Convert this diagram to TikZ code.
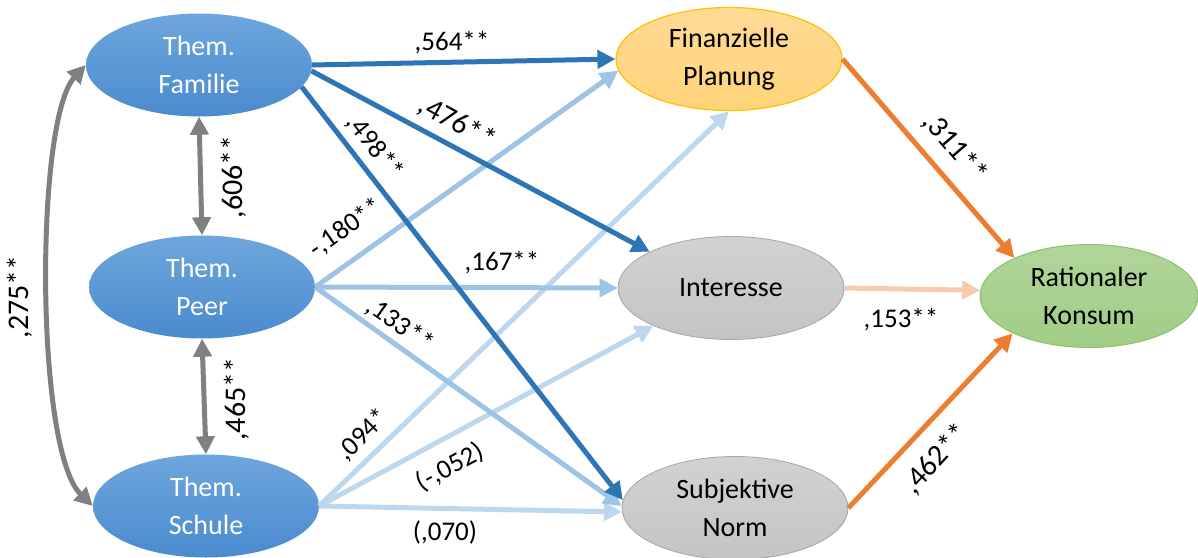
\documentclass[tikz,border=0pt]{standalone}
\usepackage{fontspec}
\setmainfont{Carlito}
\usetikzlibrary{arrows.meta,shapes.geometric}
\definecolor{dblue}{HTML}{2E75B6}
\definecolor{pblue}{HTML}{9DC3E6}
\definecolor{sblue}{HTML}{BDD7EE}
\definecolor{orng}{HTML}{ED7D31}
\definecolor{lorng}{HTML}{F8CBAD}
\definecolor{cgray}{HTML}{808080}
\definecolor{themtop}{HTML}{6EA6DC}
\definecolor{thembot}{HTML}{4A8BCE}
\definecolor{fintop}{HTML}{FFDA95}
\definecolor{finbot}{HTML}{FFD47A}
\definecolor{finbord}{HTML}{FFC000}
\definecolor{graytop}{HTML}{D2D2D2}
\definecolor{graybot}{HTML}{C4C4C4}
\definecolor{graybord}{HTML}{A5A5A5}
\definecolor{greentop}{HTML}{B1D59A}
\definecolor{greenbot}{HTML}{A2CC86}
\definecolor{greenbord}{HTML}{8DC26C}
\newcommand\ndfont{\fontsize{28}{38}\selectfont}
\newcommand\lbfont{\fontsize{27}{30}\selectfont}
\newcommand\lbbigfont{\fontsize{30}{33}\selectfont}
\begin{document}
\begin{tikzpicture}[x=1pt,y=-1pt,
  ell/.style={ellipse, inner sep=0pt, align=center, font=\ndfont, minimum width=226pt, minimum height=103pt},
  them/.style={ell, top color=themtop, bottom color=thembot, text=white},
  finst/.style={ell, top color=fintop, bottom color=finbot, draw=finbord, line width=1.2pt, text=black},
  grayst/.style={ell, top color=graytop, bottom color=graybot, draw=graybord, line width=0.8pt, text=black},
  greenst/.style={ell, minimum width=218pt, top color=greentop, bottom color=greenbot, draw=greenbord, line width=1pt, text=black},
  arr/.style={line width=5pt, -{Triangle[length=18pt,width=18pt]}},
  darr/.style={line width=5pt, cgray, {Triangle[length=18pt,width=18pt]}-{Triangle[length=18pt,width=18pt]}},
  lab/.style={inner sep=0pt, font=\lbfont, text=black},
  biglab/.style={inner sep=0pt, font=\lbbigfont, text=black}
]
\useasboundingbox (0,0) rectangle (1198,557);
\fill[white] (0,0) rectangle (1198,557);

% nodes
\node[them] (fam) at (199,65) {Them.\\Familie};
\node[them] (peer) at (202,287) {Them.\\Peer};
\node[them] (sch) at (206,506) {Them.\\Schule};
\node[finst] (fin) at (729,59) {Finanzielle\\Planung};
\node[grayst] (int) at (731,288) {Interesse};
\node[grayst] (subj) at (735,508) {Subjektive\\Norm};
\node[greenst] (rat) at (1089,296) {Rationaler\\Konsum};

% Schule arrows
\draw[arr, sblue] (sch.east) -- (fin.south);
\draw[arr, sblue] (sch.east) -- (int.206);
\draw[arr, sblue] (sch.east) -- (subj.182);
% Peer arrows
\draw[arr, pblue] (peer.east) -- (fin.186);
\draw[arr, pblue] (peer.east) -- (int.west);
\draw[arr, pblue] (peer.east) -- (subj.179);
% Familie arrows
\draw[arr, dblue] (fam.east) -- (fin.west);
\draw[arr, dblue] (fam.-3) -- (int.156);
\draw[arr, dblue] (fam.-12.6) -- (subj.176);
% to Rationaler Konsum
\draw[arr, orng] (fin.east) -- (rat.153);
\draw[arr, lorng] (int.east) -- (rat.177);
\draw[arr, orng] (subj.east) -- (rat.206);
% correlations
\draw[darr] (fam.south) -- (peer.north);
\draw[darr] (peer.south) -- (sch.north);
\draw[darr] (fam.west) .. controls (35,120) and (35,450) .. (sch.west);

% labels
\node[lab] (l564) at (452,43) {,564**};
\node[biglab, rotate=-29] (l476) at (457,123) {,476**};
\node[lab, rotate=-52] (l498) at (375,147) {,498**};
\node[lab, rotate=35] (l180) at (346,228) {-,180**};
\node[lab] (l167) at (502,263) {,167**};
\node[lab, rotate=-35] (l133) at (400,325) {,133**};
\node[lab, rotate=44] (l094) at (363,435) {,094*};
\node[lab, rotate=28] (l052) at (450,467) {(-,052)};
\node[lab] (l070) at (445,532) {(,070)};
\node[biglab, rotate=-49.5] (l311) at (955,148) {,311**};
\node[lab] (l153) at (901,320) {,153**};
\node[biglab, rotate=47] (l462) at (936,459) {,462**};
\node[biglab, rotate=90] (l606) at (234,177) {,606**};
\node[biglab, rotate=90] (l465) at (237,399) {,465**};
\node[biglab, rotate=90] (l275) at (20,297) {,275**};
\end{tikzpicture}
\end{document}
